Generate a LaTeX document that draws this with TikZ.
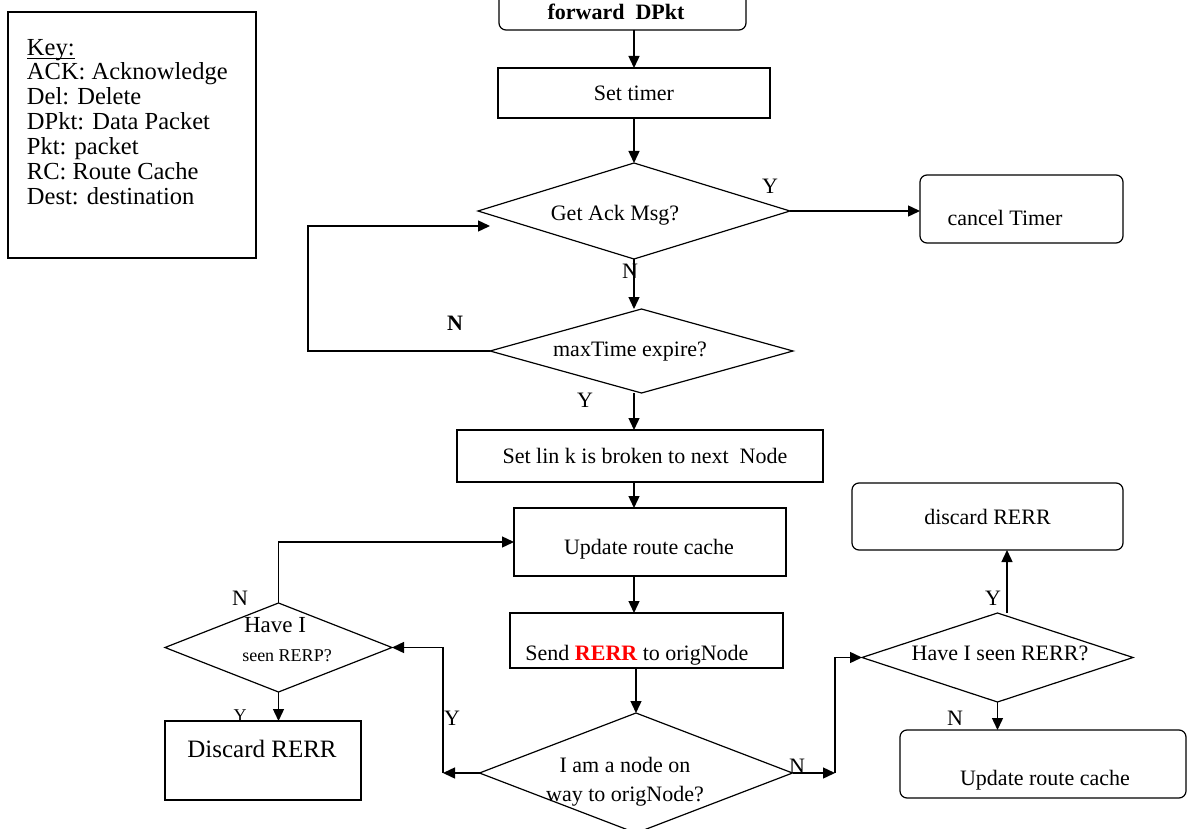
\documentclass[tikz,border=0pt]{standalone}
\usepackage{fontspec}
\setmainfont{Liberation Serif}
\usetikzlibrary{shapes.geometric,arrows.meta,calc}
\newcommand\myfs[1]{\fontsize{#1}{#1}\selectfont}
\begin{document}
\begin{tikzpicture}[x=1pt,y=-1pt,
  every node/.style={inner sep=0pt, outer sep=0pt},
  bx/.style={draw, line width=1.2pt, rectangle},
  rbx/.style={bx, rounded corners=7pt},
  dia/.style={draw, diamond, line width=1.2pt, aspect=3},
  arr/.style={line width=1.4pt, -{Triangle[length=12pt,width=11pt]}},
  txt/.style={font=\myfs{22}},
  lbl/.style={font=\myfs{22}},
]
\useasboundingbox (0,0) rectangle (1189,829);
\clip (0,0) rectangle (1189,829);

% key
\node[bx, minimum width=248, minimum height=246, anchor=north west] (key) at (8,12) {};
\node[font=\myfs{24.5}, anchor=base west] (keyh) at (27,56) {Key:};
\draw[line width=1pt] ([yshift=-3pt]keyh.base west) -- ([yshift=-3pt]keyh.base east);
\node[font=\fontsize{24.5}{25}\selectfont, align=left, anchor=north west] (keyt) at (27,63)
  {ACK: Acknowledge\\Del: Delete\\DPkt: Data Packet\\Pkt: packet\\RC: Route Cache\\Dest: destination};

% main column
\node[rbx, minimum width=247, minimum height=40] (fwd) at (622.5,10) {};
\node[font=\myfs{22}\bfseries] (fwdt) at (616,12) {forward\ \ DPkt};

\node[bx, minimum width=272, minimum height=50, txt] (timer) at (634,93) {Set timer};

\node[dia, minimum width=312, minimum height=96] (getack) at (634,211) {};
\node[txt] (getackt) at (615,215) {Get Ack Msg?};

\node[rbx, minimum width=203, minimum height=68] (cancel) at (1021.5,209) {};
\node[txt] (cancelt) at (1005,218) {cancel Timer};

\node[dia, minimum width=303, minimum height=84] (maxT) at (641.5,351) {};
\node[txt] (maxTt) at (630,352) {maxTime expire?};

\node[bx, minimum width=366, minimum height=52] (link) at (640,456) {};
\node[txt] (linkt) at (645,456) {Set lin k is broken to next\ \ Node};

\node[bx, minimum width=272, minimum height=68] (upd) at (650,542) {};
\node[txt] (updt) at (649,549) {Update route cache};

\node[bx, minimum width=273, minimum height=55] (send) at (646.5,640.5) {};
\node[txt] (sendt) at (637,655) {Send \textcolor{red}{\bfseries RERR} to origNode};

\node[dia, minimum width=313, minimum height=120] (iam) at (636,773) {};
\node[font=\fontsize{22}{29}\selectfont, align=center] (iamt) at (625,782) {I am a node on\\way to origNode?};

% left branch
\node[dia, minimum width=227, minimum height=89] (hrp) at (278.5,647.5) {};
\node[font=\myfs{23}] (hrpt1) at (275,625) {Have I};
\node[font=\myfs{18}] (hrpt2) at (287,656) {seen RERP?};

\node[font=\myfs{18}] (ly5) at (240,716) {Y};
\node[bx, fill=white, minimum width=196, minimum height=79] (disc) at (263,760.5) {};
\node[font=\myfs{25}] (disct) at (262,749) {Discard RERR};

% right branch
\node[dia, minimum width=271, minimum height=89] (hrr) at (997.5,657.5) {};
\node[txt] (hrrt) at (1000,653) {Have I seen RERR?};

\node[rbx, minimum width=271, minimum height=67, txt] (dr) at (987.5,516.5) {discard RERR};

\node[rbx, minimum width=286, minimum height=68] (ur) at (1043,764) {};
\node[txt] (urt) at (1045,780) {Update route cache};

% connectors
\coordinate (sp) at (634,0);
\draw[arr] (fwd.south -| sp) -- (timer.north -| sp);
\draw[arr] (timer.south -| sp) -- (getack.north);
\draw[arr] (getack.east) -- (getack.east -| cancel.west);
\draw[arr] (getack.south) -- (getack.south |- maxT.north);
\coordinate (lp) at (308,226);
\coordinate (gin) at (490,226);
\draw[arr] (maxT.west) -| (lp) -- (gin);
\draw[arr] (maxT.south -| sp) -- (link.north -| sp);
\draw[arr] (link.south -| sp) -- (upd.north -| sp);
\draw[arr] (upd.south -| sp) -- (send.north -| sp);
\draw[arr] (send.south -| iam.north) -- (iam.north);
\draw[arr] (hrp.north) |- (upd.west);
\draw[arr] (hrp.south) -- (hrp.south |- disc.north);
\coordinate (yc) at (443,773);
\coordinate (nc) at (835,773);
\draw[arr] (iam.west) -- (yc);
\draw[arr] (yc) |- (hrp.east);
\draw[arr] (iam.east) -- (nc);
\draw[arr] (nc) |- (hrr.west);
\coordinate (ya) at (1007,0);
\draw[arr] (hrr.north -| ya) -- (dr.south -| ya);
\draw[arr] (hrr.south) -- (hrr.south |- ur.north);

% labels
\node[lbl] (ly1) at (770,186) {Y};
\node[lbl] (ln1) at (630,271) {N};
\node[lbl, font=\myfs{22}\bfseries] (ln2) at (455,323) {N};
\node[lbl] (ly2) at (585,400) {Y};
\node[lbl] (ln3) at (240,598) {N};
\node[lbl] (ly3) at (452,718) {Y};
\node[lbl] (ln4) at (797,766) {N};
\node[lbl] (ly4) at (993,598) {Y};
\node[lbl] (ln5) at (955,718) {N};
\end{tikzpicture}
\end{document}
